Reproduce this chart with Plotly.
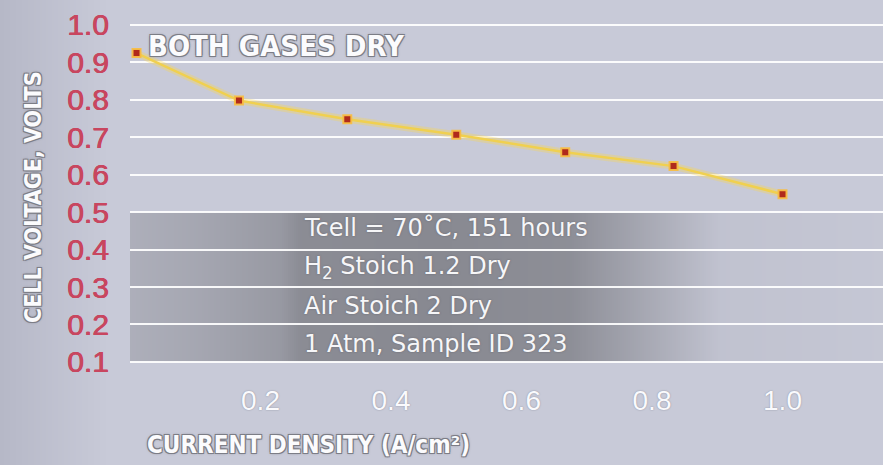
import plotly.graph_objects as go

# ---- data ----
current_density = [0.01, 0.167, 0.333, 0.5, 0.667, 0.833, 1.0]
cell_voltage = [0.925, 0.798, 0.748, 0.707, 0.660, 0.623, 0.548]

y_ticks = [0.1, 0.2, 0.3, 0.4, 0.5, 0.6, 0.7, 0.8, 0.9, 1.0]
y_tick_labels = ["0.1", "0.2", "0.3", "0.4", "0.5", "0.6", "0.7", "0.8", "0.9", "1.0"]
x_ticks = [0.2, 0.4, 0.6, 0.8, 1.0]
x_tick_labels = ["0.2", "0.4", "0.6", "0.8", "1.0"]

info_lines = [
    "Tcell = 70˚C, 151 hours",
    "H<sub>2</sub> Stoich 1.2 Dry",
    "Air Stoich 2 Dry",
    "1 Atm, Sample ID 323",
]
info_y = [0.457, 0.352, 0.250, 0.148]
chart_label = "BOTH GASES DRY"
x_title = "CURRENT DENSITY (A/cm²)"
y_title = "CELL VOLTAGE, VOLTS"

BOLDNARROW = "DejaVu Sans Condensed, DejaVu Sans, sans-serif"
PLAIN = "Liberation Sans, Arial, sans-serif"
INFO = "DejaVu Sans, sans-serif"
OUTLINE = ("-1px -1px 0 #7c7d86, 1px -1px 0 #7c7d86, -1px 1px 0 #7c7d86, "
           "1px 1px 0 #7c7d86, 0 0 3px #6e6f78")
RED = "#c8465f"

W, H = 883, 465
ML, MR, MT, MB = 130, 0, 10, 90
PW, PH = W - ML - MR, H - MT - MB
X_MAX = 1.154
PX_PER_X = PW / X_MAX

BG = (200, 202, 216)
BG_EDGE = (182, 184, 199)
BAND_DARK = (136, 137, 145)

fig = go.Figure()

fig.add_trace(go.Scatter(
    x=current_density, y=cell_voltage, mode="lines",
    line=dict(color="rgba(250,215,80,0.35)", width=7),
    hoverinfo="skip", showlegend=False,
))
fig.add_trace(go.Scatter(
    x=current_density, y=cell_voltage, mode="lines+markers",
    line=dict(color="#f0d050", width=2.5),
    marker=dict(symbol="square", size=8, color="#b02a1c",
                line=dict(color="rgba(248,190,70,0.95)", width=2)),
    showlegend=False,
))


def mix(c0, c1, t):
    return tuple(int(round(a + (b - a) * t)) for a, b in zip(c0, c1))


def band_t(px):
    pts = [(130, 0.42), (200, 0.55), (280, 0.75), (300, 0.95), (440, 1.0),
           (570, 0.92), (640, 0.55), (720, 0.12), (883, 0.05)]
    if px <= pts[0][0]:
        return pts[0][1]
    for (x0, t0), (x1, t1) in zip(pts, pts[1:]):
        if px <= x1:
            return t0 + (t1 - t0) * (px - x0) / (x1 - x0)
    return pts[-1][1]


def edge_t(px):
    return max(0.0, 1 - px / 110.0)


def strips(color_at, px_lo, px_hi, step, make):
    out = []
    start = px_lo
    cur = color_at(px_lo + step / 2)
    p = px_lo + step
    while p < px_hi:
        c = color_at(p + step / 2)
        if c != cur:
            out.append(make(start, p, cur))
            start, cur = p, c
        p += step
    out.append(make(start, px_hi, cur))
    return out


shapes = []
# background left-edge shading (full height, paper coordinates)
shapes += strips(lambda px: mix(BG, BG_EDGE, edge_t(px)), 0, 130, 2,
                 lambda a, b, c: dict(type="rect", xref="paper", yref="paper",
                                      x0=(a - ML) / PW, x1=(b - ML) / PW, y0=-1, y1=2,
                                      fillcolor="rgb(%d,%d,%d)" % c,
                                      line=dict(width=0), layer="below"))
# grey band behind the info lines (data coordinates, pixel aligned)
shapes += strips(lambda px: mix(BG, BAND_DARK, band_t(px)), ML, W, 2,
                 lambda a, b, c: dict(type="rect", xref="x", yref="y",
                                      x0=(a - ML) / PX_PER_X, x1=(b - ML) / PX_PER_X,
                                      y0=0.1, y1=0.5,
                                      fillcolor="rgb(%d,%d,%d)" % c,
                                      line=dict(width=0), layer="below"))

annotations = [
    dict(text=chart_label, x=0.025, y=0.945, xref="x", yref="y",
         xanchor="left", yanchor="middle", showarrow=False,
         font=dict(family=BOLDNARROW, size=29, color="#fbfbfd", weight="bold",
                   shadow=OUTLINE)),
    dict(text=x_title, x=(308 - ML) / PW, y=-(445 - (H - MB)) / PH,
         xref="paper", yref="paper", xanchor="center", yanchor="middle",
         showarrow=False,
         font=dict(family=BOLDNARROW, size=24, color="#fbfbfd", weight="bold",
                   shadow=OUTLINE)),
    dict(text=y_title, x=-(ML - 33) / PW, y=((H - MB) - 197) / PH,
         xref="paper", yref="paper", xanchor="center", yanchor="middle",
         textangle=-90, showarrow=False,
         font=dict(family=BOLDNARROW, size=23, color="#fbfbfd", weight="bold",
                   shadow=OUTLINE)),
]
for txt, yy in zip(info_lines, info_y):
    annotations.append(dict(text=txt, x=0.264, y=yy, xref="x", yref="y",
                            xanchor="left", yanchor="middle", showarrow=False,
                            font=dict(family=INFO, size=24, color="#f6f6f8",
                                      shadow="0 0 2px rgba(80,80,90,0.6)")))

fig.update_layout(
    width=W, height=H,
    margin=dict(l=ML, r=MR, t=MT, b=MB),
    paper_bgcolor="rgb(%d,%d,%d)" % BG,
    plot_bgcolor="rgba(0,0,0,0)",
    shapes=shapes,
    annotations=annotations,
    xaxis=dict(range=[0, X_MAX], tickmode="array", tickvals=x_ticks,
               ticktext=x_tick_labels, showgrid=False, zeroline=False,
               showline=False, ticks="", ticklabelstandoff=6,
               tickfont=dict(family=PLAIN, size=28, color="#fafafd",
                             shadow="0 0 1.5px #7f8190")),
    yaxis=dict(range=[0.065, 1.040], tickmode="array", tickvals=y_ticks,
               ticktext=y_tick_labels, showgrid=True,
               gridcolor="rgba(255,255,255,0.92)", gridwidth=2,
               zeroline=False, showline=False, ticks="", ticklabelstandoff=20,
               tickfont=dict(family=PLAIN, size=30, color=RED,
                             shadow=f"0.4px 0 0 {RED}, -0.4px 0 0 {RED}")),
)

fig.write_html("out.html",
               config={"displayModeBar": False},
               post_script="document.body.style.margin='0';document.body.style.overflow='hidden';")
